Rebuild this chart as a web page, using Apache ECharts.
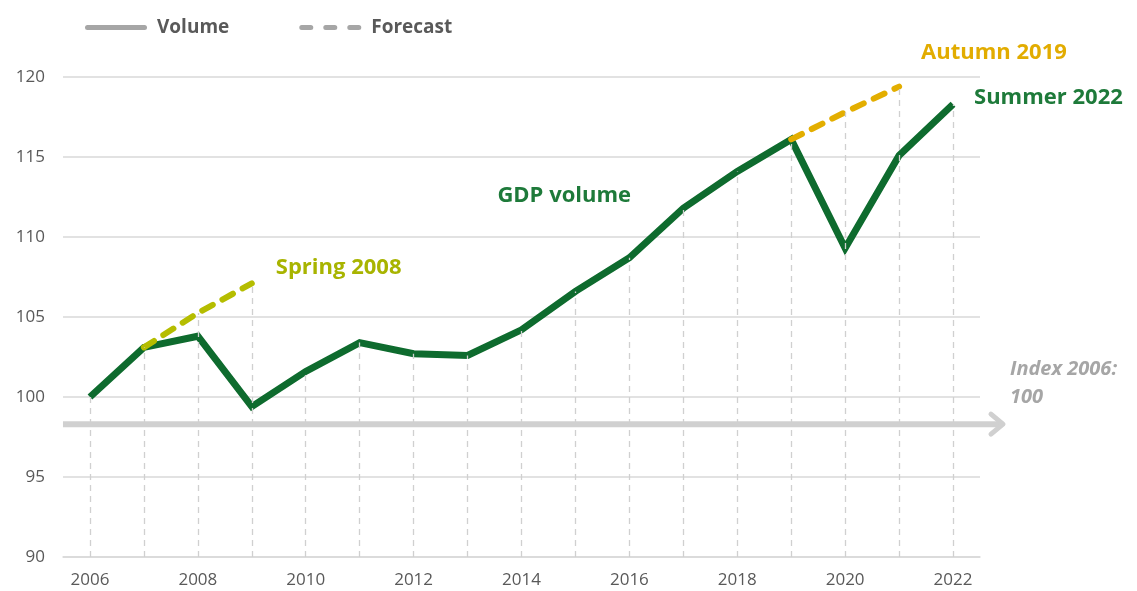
<!DOCTYPE html>
<html><head><meta charset="utf-8">
<script src="https://cdn.jsdelivr.net/npm/echarts@6/dist/echarts.min.js"></script>
<style>html,body{margin:0;padding:0;background:#fff}#c{width:1137px;height:591px}</style>
</head><body><div id="c"></div>
<script>
const years = ['2006','2007','2008','2009','2010','2011','2012','2013','2014','2015','2016','2017','2018','2019','2020','2021','2022'];
const gdpVolume = [100, 103.1, 103.8, 99.4, 101.6, 103.4, 102.7, 102.6, 104.2, 106.6, 108.7, 111.8, 114.1, 116.1, 109.3, 115.1, 118.3];
const spring2008 = [null, 103.1, 105.25, 107.1, null, null, null, null, null, null, null, null, null, null, null, null, null];
const autumn2019 = [null, null, null, null, null, null, null, null, null, null, null, null, null, 116.1, 117.8, 119.4, null];
const yTicks = {min: 90, max: 120, interval: 5};
const baseLineValue = 98.3;

const FONT = '"Open Sans", Lato, sans-serif';
const topVals = years.map((y, i) => Math.max(gdpVolume[i], spring2008[i] ?? -Infinity, autumn2019[i] ?? -Infinity));

const solidIcon = 'path://M2.5,0 H59.5 A2.5,2.5 0 0 1 59.5,5 H2.5 A2.5,2.5 0 0 1 2.5,0 Z';
const dashIcon = 'path://M2.5,0 H11.5 A2.5,2.5 0 0 1 11.5,5 H2.5 A2.5,2.5 0 0 1 2.5,0 Z M26.5,0 H35.5 A2.5,2.5 0 0 1 35.5,5 H26.5 A2.5,2.5 0 0 1 26.5,0 Z M50.5,0 H59.5 A2.5,2.5 0 0 1 59.5,5 H50.5 A2.5,2.5 0 0 1 50.5,0 Z';

const chart = echarts.init(document.getElementById('c'), null, {renderer: 'canvas'});
chart.setOption({
  animation: false,
  textStyle: {fontFamily: FONT},
  grid: {left: 63, right: 157, top: 77, bottom: 34},
  legend: {
    left: 80, top: 13, itemWidth: 62, itemHeight: 6, itemGap: 70,
    data: [{name: 'Volume', icon: solidIcon}, {name: 'Forecast', icon: dashIcon}],
    textStyle: {fontFamily: FONT, fontSize: 19, fontWeight: 'bold', color: '#595959', padding: [0, 0, 0, 5]}
  },
  xAxis: {
    type: 'category', data: years, boundaryGap: true,
    axisLine: {show: true, lineStyle: {color: '#d9d9d9', width: 1.5}},
    axisTick: {show: false},
    axisLabel: {interval: 1, fontSize: 17, color: '#595959', margin: 15, fontFamily: FONT},
    splitLine: {show: false}
  },
  yAxis: {
    type: 'value', min: yTicks.min, max: yTicks.max, interval: yTicks.interval,
    axisLine: {show: false}, axisTick: {show: false},
    axisLabel: {fontSize: 17, color: '#595959', margin: 18, fontFamily: FONT},
    splitLine: {lineStyle: {color: '#d9d9d9', width: 1.5}}
  },
  series: [
    {name: 'Volume', type: 'line', data: [], symbol: 'none', color: '#a6a6a6',
     lineStyle: {width: 5, cap: 'round', color: '#a6a6a6'}},
    {name: 'Forecast', type: 'line', data: [], symbol: 'none', color: '#a6a6a6',
     lineStyle: {width: 5, cap: 'round', color: '#a6a6a6', type: [10, 10]}},
    {name: 'drops', type: 'line', data: [], z: 1, silent: true,
     markLine: {symbol: 'none', silent: true, label: {show: false},
       lineStyle: {color: '#d0d0d0', type: [6, 5], width: 1.3},
       data: years.map((y, i) => [{coord: [i, yTicks.min]}, {coord: [i, topVals[i]]}])}},
    {name: 'GDP volume', type: 'line', data: gdpVolume, symbol: 'none', z: 3,
     lineStyle: {width: 7, color: '#0e6b2e', join: 'miter'},
     endLabel: {show: true, formatter: 'Summer 2022', color: '#1e7a3a', fontSize: 22, fontWeight: 'bold', fontFamily: FONT, offset: [13, -6]}},
    {name: 'Spring 2008', type: 'line', data: spring2008, symbol: 'none', z: 4,
     lineStyle: {width: 6, color: '#b5bd00', type: [12, 11], cap: 'round'}},
    {name: 'Autumn 2019', type: 'line', data: autumn2019, symbol: 'none', z: 4,
     lineStyle: {width: 6, color: '#e3ae00', type: [12, 11], cap: 'round'}}
  ]
});

function drawOverlays() {
  const yb = chart.convertToPixel({yAxisIndex: 0}, baseLineValue);
  const x0 = chart.convertToPixel({xAxisIndex: 0}, 0) - 27;
  const pSpring = chart.convertToPixel({seriesIndex: 4}, [3, spring2008[3]]);
  const pAut = chart.convertToPixel({seriesIndex: 5}, [15, autumn2019[15]]);
  const pGdp = chart.convertToPixel({seriesIndex: 3}, [10, gdpVolume[10]]);
  const xEnd = 1003;
  chart.setOption({graphic: [
    {type: 'line', z: 2, shape: {x1: x0, y1: yb, x2: xEnd - 2, y2: yb}, style: {stroke: '#d0d0d0', lineWidth: 6}},
    {type: 'polyline', z: 2, shape: {points: [[xEnd - 12, yb - 10], [xEnd, yb], [xEnd - 12, yb + 10]]},
     style: {stroke: '#d0d0d0', lineWidth: 5, fill: null, lineCap: 'round', lineJoin: 'round'}},
    {type: 'text', z: 5, left: 1010, top: yb - 69, style: {text: 'Index 2006:\n100', fontSize: 20, fontWeight: 'bold', fontStyle: 'italic', fill: '#a6a6a6', lineHeight: 28, fontFamily: FONT}},
    {type: 'text', z: 5, x: pSpring[0] + 24, y: pSpring[1] - 16, style: {text: 'Spring 2008', fontSize: 22, fontWeight: 'bold', fill: '#a8b400', verticalAlign: 'middle', fontFamily: FONT}},
    {type: 'text', z: 5, x: pAut[0] + 22, y: pAut[1] - 34, style: {text: 'Autumn 2019', fontSize: 22, fontWeight: 'bold', fill: '#e2ac00', verticalAlign: 'middle', fontFamily: FONT}},
    {type: 'text', z: 5, x: pGdp[0] - 132, y: pGdp[1] - 62, style: {text: 'GDP volume', fontSize: 22, fontWeight: 'bold', fill: '#1e7a3a', verticalAlign: 'middle', fontFamily: FONT}}
  ]});
}
drawOverlays();
</script></body></html>
